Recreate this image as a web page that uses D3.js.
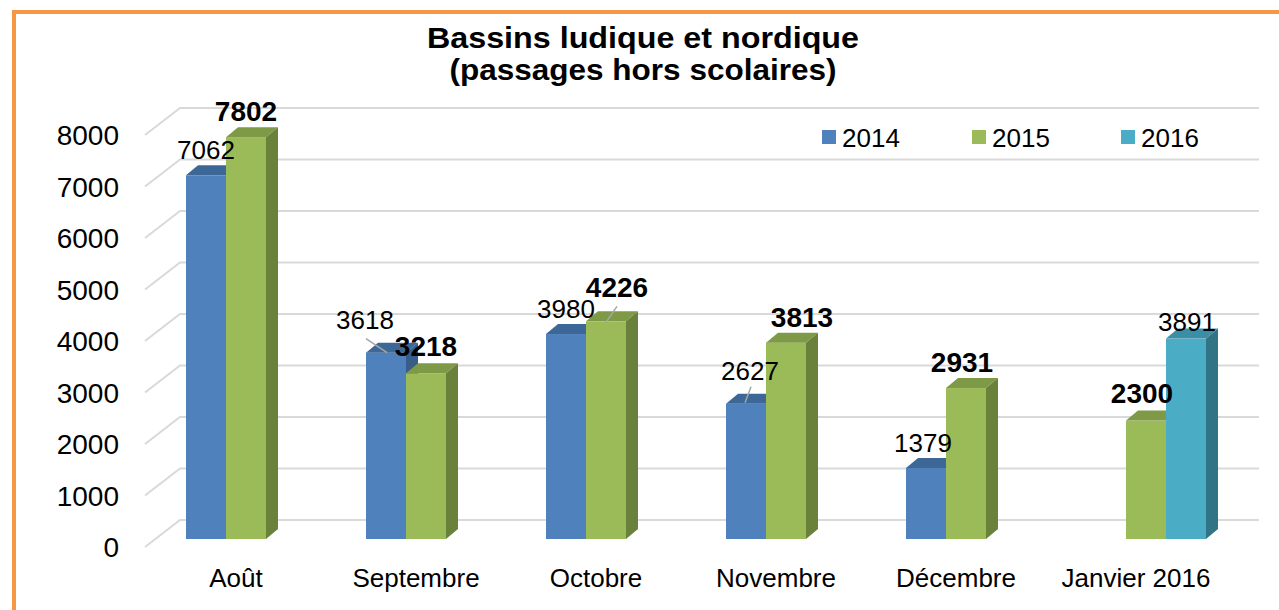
<!DOCTYPE html>
<html><head><meta charset="utf-8">
<script src="https://cdn.jsdelivr.net/npm/d3@7"></script>
<style>html,body{margin:0;padding:0;background:#fff;}svg{display:block;font-family:"Liberation Sans",Arial,sans-serif;}</style>
</head><body>
<svg id="c" width="1279" height="610"></svg>
<script>
const categories = ["Août","Septembre","Octobre","Novembre","Décembre","Janvier 2016"];
const seriesNames = ["2014","2015","2016"];
const s2014 = [7062,3618,3980,2627,1379,null];
const s2015 = [7802,3218,4226,3813,2931,2300];
const s2016 = [null,null,null,null,null,3891];
const yTicks = [0,1000,2000,3000,4000,5000,6000,7000,8000];
const titleLines = ["Bassins ludique et nordique","(passages hors scolaires)"];

const seriesValues = [s2014, s2015, s2016];
const colors = {
  "2014": {front:"#4f81bd", top:"#3c6797", side:"#385d8a"},
  "2015": {front:"#9bbb59", top:"#7e9a47", side:"#6a813b"},
  "2016": {front:"#4bacc6", top:"#3a8ea6", side:"#307486"}
};
// label nudges for labels that Excel moved (series index, category index) -> [dx, dy, leader]
const nudges = {
  "0-1": [-21,-7,true],
  "1-1": [0,-1,false],
  "1-2": [11,-8,true],
  "0-3": [4,-7,true],
  "1-3": [16,0,false],
  "0-4": [-3,1,false],
  "1-4": [-4,0,false],
  "1-5": [-4,-2,false],
  "2-5": [1,9,false]
};

const svg = d3.select("#c");
const DX = 12, DY = -10;       // bar depth
const WX = 35, WY = -27;       // wall depth

const x = d3.scaleBand().domain(categories).range([156,1236]).padding(0);
const xi = d3.scaleBand().domain(seriesNames).range([0, x.bandwidth()]).paddingInner(0).paddingOuter(0.75);
const y = d3.scaleLinear().domain([0,8000]).range([539,127]);
const yBack = v => y(v) - 19;
const backLeft = 180, backRight = 1259;

// border
svg.append("rect").attr("x",14).attr("y",12).attr("width",1400).attr("height",800)
  .attr("fill","none").attr("stroke","#f79646").attr("stroke-width",4);

// title
svg.append("g").selectAll("text").data(titleLines).join("text")
  .attr("x",643).attr("y",(d,i)=>48+i*32)
  .attr("text-anchor","middle").attr("font-weight","bold").attr("font-size",30)
  .attr("textLength",(d,i)=>i===0?432:387).attr("lengthAdjust","spacingAndGlyphs")
  .text(d=>d);

// gridlines
const grid = svg.append("g");
yTicks.forEach(t=>{
  const yb = yBack(t);
  grid.append("path")
    .attr("d",`M${backLeft+(-WX)},${yb-WY}L${backLeft},${yb}L${backRight},${yb}`)
    .attr("fill","none").attr("stroke","#d9d9d9").attr("stroke-width",2);
});

// y tick labels
svg.append("g").selectAll("text").data(yTicks).join("text")
  .attr("x",119).attr("y",d=>yBack(d)-WY+10)
  .attr("text-anchor","end").attr("font-size",28).attr("fill","#000")
  .text(d=>d);

// bars
const bars = [];
categories.forEach((c,ci)=>{
  seriesNames.forEach((s,si)=>{
    const v = seriesValues[si][ci];
    if (v==null) return;
    bars.push({c,ci,s,si,v});
  });
});
bars.sort((a,b)=>(x(a.c)+xi(a.s))-(x(b.c)+xi(b.s)));
const bg = svg.append("g");
bars.forEach(b=>{
  const x0 = x(b.c)+xi(b.s), w = xi.bandwidth();
  const y0 = y(0), y1 = y(b.v);
  const col = colors[b.s];
  const g = bg.append("g");
  g.append("rect").attr("x",x0).attr("y",y1).attr("width",w).attr("height",y0-y1).attr("fill",col.front);
  g.append("path").attr("d",`M${x0},${y1}L${x0+DX},${y1+DY}L${x0+w+DX},${y1+DY}L${x0+w},${y1}Z`).attr("fill",col.top);
  g.append("path").attr("d",`M${x0+w},${y1}L${x0+w+DX},${y1+DY}L${x0+w+DX},${y0+DY}L${x0+w},${y0}Z`).attr("fill",col.side);
});

// data labels
const lg = svg.append("g");
bars.forEach(b=>{
  const x0 = x(b.c)+xi(b.s), w = xi.bandwidth();
  const cx0 = x0 + w/2, cy0 = y(b.v) - 26;
  const n = nudges[b.si+"-"+b.ci] || [0,0,false];
  const cx = cx0+n[0], cy = cy0+n[1];
  const bold = b.s==="2015";
  if (n[2]) {
    let x1,y1,x2,y2;
    if (b.si===0 && b.ci===1){ x1=cx+1; y1=cy+19; x2=x0+w/2+1; y2=y(b.v); }
    else if (b.si===1 && b.ci===2){ x1=cx; y1=cy+19; x2=x0+w/2; y2=y(b.v)+1; }
    else { x1=cx+1; y1=cy+16; x2=x0+w/2-1; y2=y(b.v)-1; }
    lg.append("line").attr("x1",x1).attr("y1",y1).attr("x2",x2).attr("y2",y2)
      .attr("stroke","#a6a6a6").attr("stroke-width",1.5);
  }
  lg.append("text").attr("x",cx).attr("y",cy+(bold?10:9.5))
    .attr("text-anchor","middle").attr("font-size",bold?28:26)
    .attr("font-weight",bold?"bold":"normal").attr("fill","#000")
    .text(b.v);
});

// category labels
svg.append("g").selectAll("text").data(categories).join("text")
  .attr("x",d=>x(d)+x.bandwidth()/2-10).attr("y",587)
  .attr("text-anchor","middle").attr("font-size",26).attr("fill","#000")
  .text(d=>d);

// legend
const legX = [822,972,1121];
const leg = svg.append("g").selectAll("g").data(seriesNames).join("g")
  .attr("transform",(d,i)=>`translate(${legX[i]},130)`);
leg.append("rect").attr("width",14).attr("height",14).attr("fill",d=>colors[d].front);
leg.append("text").attr("x",20).attr("y",17).attr("font-size",26).attr("fill","#000").text(d=>d);
</script>
</body></html>
